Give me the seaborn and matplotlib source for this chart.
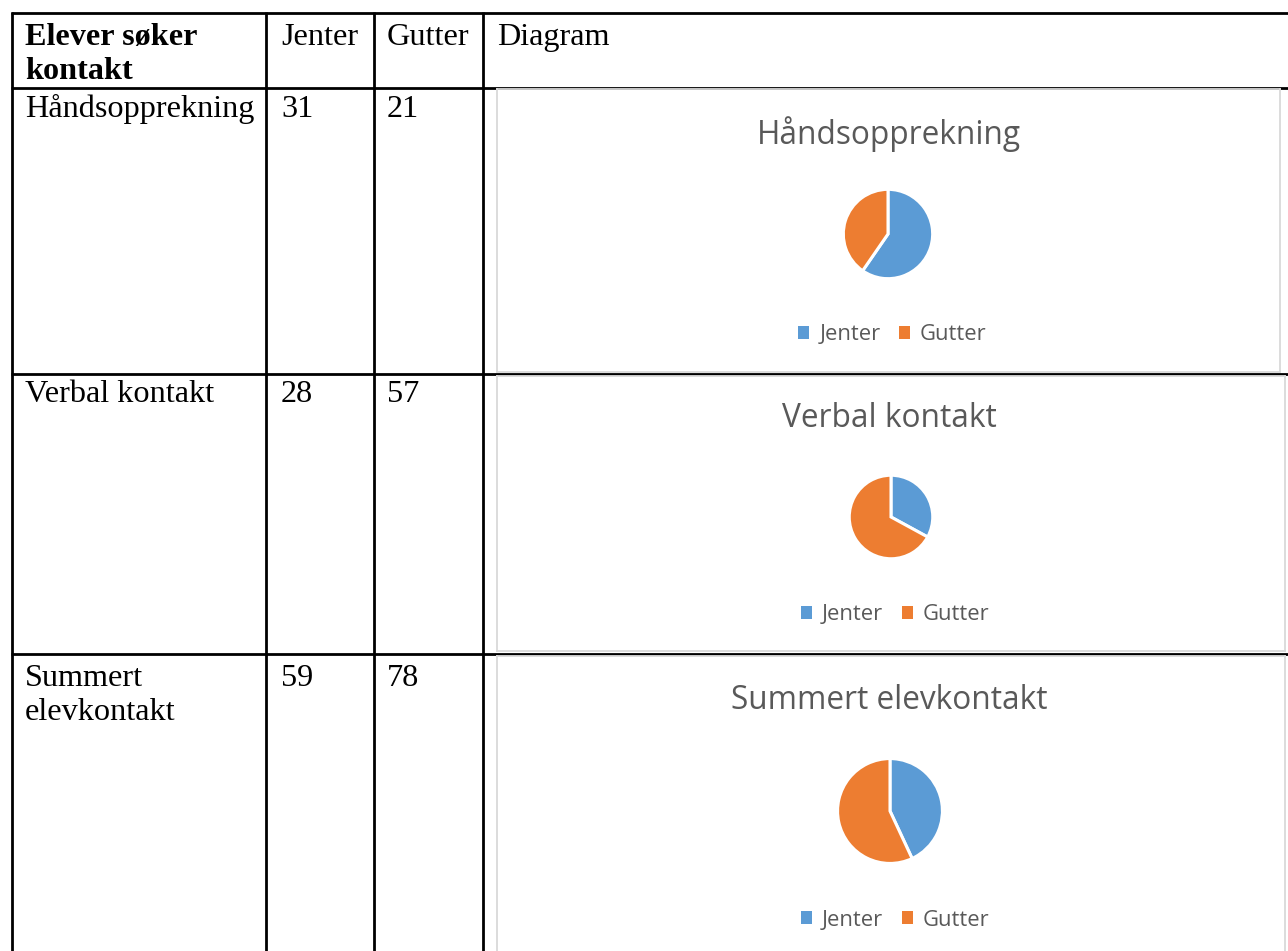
import matplotlib
matplotlib.use("Agg")
import matplotlib.pyplot as plt
import seaborn as sns

# ---- data ----
header = ["Elever søker\nkontakt", "Jenter", "Gutter", "Diagram"]
categories = ["Håndsopprekning", "Verbal kontakt", "Summert\nelevkontakt"]
chart_titles = ["Håndsopprekning", "Verbal kontakt", "Summert elevkontakt"]
series_names = ["Jenter", "Gutter"]
jenter = [31, 28, 59]
gutter = [21, 57, 78]

sns.set_theme(style="white")
plt.rcParams["font.family"] = ["DejaVu Sans"]

BLUE = "#5B9BD5"
ORANGE = "#ED7D31"
GRAY_TXT = "#595959"
BOX = "#D9D9D9"

W, H = 1288, 951
fig = plt.figure(figsize=(W / 100, H / 100), dpi=100)
fig.patch.set_facecolor("white")

ax = fig.add_axes([0, 0, 1, 1])
ax.set_xlim(0, W)
ax.set_ylim(H, 0)
ax.axis("off")

# table grid
col_x = [12, 266, 374, 483]
row_y = [13, 88, 374, 654]
lw = 2.0
for y in row_y:
    ax.plot([11, W + 5], [y, y], color="black", lw=lw, solid_capstyle="butt")
for x in col_x:
    ax.plot([x, x], [12, H + 5], color="black", lw=lw, solid_capstyle="butt")

serif = ["Liberation Serif", "DejaVu Serif"]
fs = 23.2
text_x = [25, 281, 387, 497]
# header
ax.text(text_x[0], 45, header[0].split("\n")[0], fontsize=fs, family=serif,
        fontweight="bold", va="baseline", ha="left", color="black")
ax.text(text_x[0], 79, header[0].split("\n")[1], fontsize=fs, family=serif,
        fontweight="bold", va="baseline", ha="left", color="black")
for i in range(1, 4):
    ax.text(text_x[i], 45, header[i], fontsize=fs, family=serif,
            va="baseline", ha="left", color="black")

row_base = [117, 402, 686]
for i, cat in enumerate(categories):
    for j, line in enumerate(cat.split("\n")):
        ax.text(text_x[0], row_base[i] + 34 * j, line, fontsize=fs,
                family=serif, va="baseline", ha="left", color="black")
    ax.text(text_x[1], row_base[i], str(jenter[i]), fontsize=fs,
            family=serif, va="baseline", ha="left", color="black")
    ax.text(text_x[2], row_base[i], str(gutter[i]), fontsize=fs,
            family=serif, va="baseline", ha="left", color="black")

# chart boxes (pixel coords: x0, y0, x1, y1)
boxes = [(497, 89, 1280, 372), (497, 376, 1285, 651), (497, 656, 1285, 975)]
pies = [(888, 234, 46), (891, 517, 43), (890, 811, 54)]
title_y = [134, 419, 700]
legend_y = [335, 615, 920]

sans = ["Open Sans", "DejaVu Sans"]

def fig_rect(x0, y0, x1, y1):
    return [x0 / W, 1 - y1 / H, (x1 - x0) / W, (y1 - y0) / H]

for k in range(3):
    x0, y0, x1, y1 = boxes[k]
    bax = fig.add_axes(fig_rect(x0, y0, x1, y1))
    bax.set_xlim(x0, x1)
    bax.set_ylim(y1, y0)
    bax.set_xticks([])
    bax.set_yticks([])
    bax.patch.set_alpha(0)
    for s in bax.spines.values():
        s.set_color(BOX)
        s.set_linewidth(1.3)
    bax.text(889, title_y[k], chart_titles[k], fontsize=22.8, family=sans,
             color=GRAY_TXT, ha="center", va="center")

    pcx, pcy, r = pies[k]
    pax = fig.add_axes(fig_rect(pcx - r, pcy - r, pcx + r, pcy + r))
    wedges, _ = pax.pie([jenter[k], gutter[k]], colors=[BLUE, ORANGE],
                        startangle=90, counterclock=False,
                        wedgeprops=dict(edgecolor="white", linewidth=2.2))
    pax.set_xlim(-1.03, 1.03)
    pax.set_ylim(-1.03, 1.03)
    pax.set_aspect("equal")
    pax.axis("off")

    ly = 1 - (legend_y[k] - y0) / (y1 - y0)
    leg = bax.legend(wedges, series_names, loc="center",
                     bbox_to_anchor=(0.5 + 4 / (x1 - x0), ly),
                     bbox_transform=bax.transAxes, ncol=2, frameon=False,
                     handlelength=0.5, handleheight=0.5, handletextpad=0.45,
                     columnspacing=0.85, prop={"family": sans, "size": 15.8})
    for t in leg.get_texts():
        t.set_color(GRAY_TXT)
    for h in leg.legend_handles:
        h.set_edgecolor("none")

fig.savefig("out.png", dpi=100, facecolor="white")
